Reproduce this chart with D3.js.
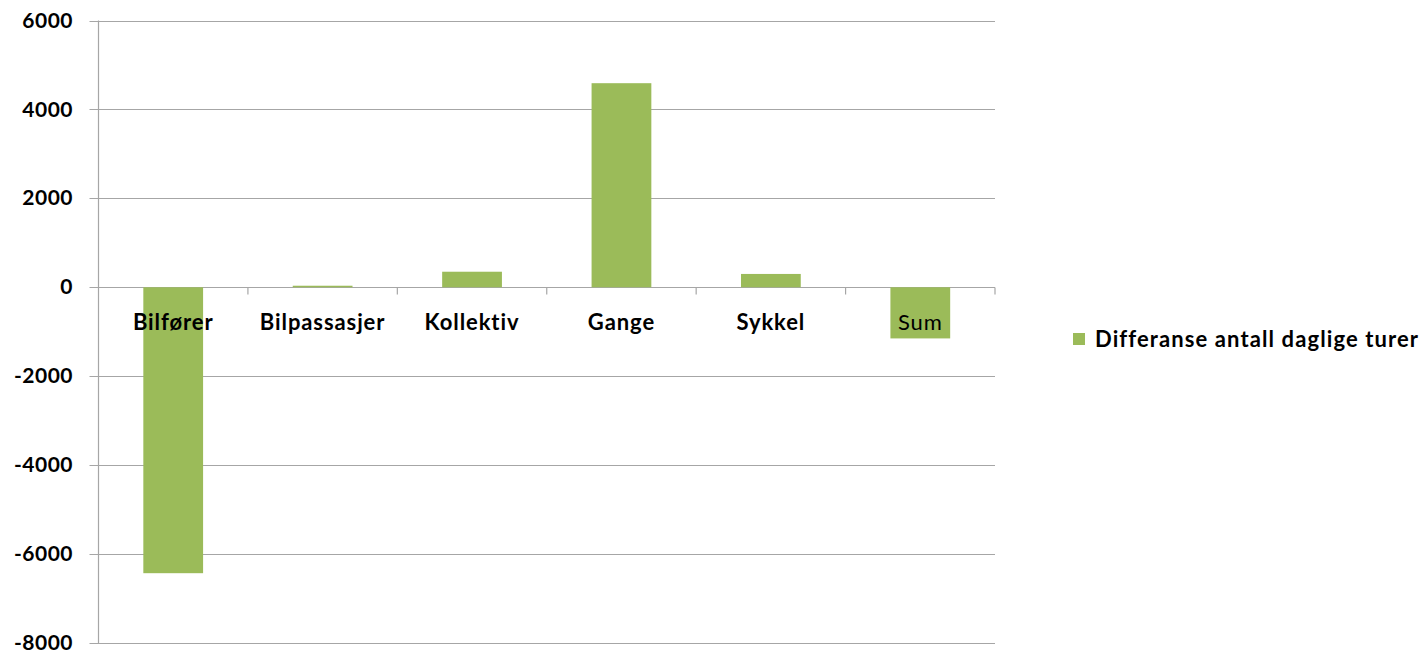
<!DOCTYPE html>
<html>
<head>
<meta charset="utf-8">
<script src="https://cdn.jsdelivr.net/npm/d3@7"></script>
<style>
  html, body { margin: 0; padding: 0; background: #fff; }
  svg { display: block; }
  text { font-family: "Lato", "Open Sans", sans-serif; }
</style>
</head>
<body>
<svg id="chart" width="1421" height="654"></svg>
<script>
const categories = ["Bilfører", "Bilpassasjer", "Kollektiv", "Gange", "Sykkel", "Sum"];
const values = [-6430, 35, 350, 4590, 300, -1150];
const yTicks = [6000, 4000, 2000, 0, -2000, -4000, -6000, -8000];
const seriesName = "Differanse antall daglige turer";

(function () {
const svg = d3.select("#chart");
const plotLeft = 98.5, plotRight = 995, plotTop = 20.5, plotBottom = 643;
const barColor = "#9BBB59";
const gridColor = "#a6a6a6";

const y = d3.scaleLinear().domain([-8000, 6000]).range([plotBottom, plotTop]);
const xBand = d3.scaleBand().domain(categories).range([plotLeft, plotRight]).paddingInner(0.6).paddingOuter(0.3);
const xStep = d3.scaleBand().domain(categories).range([plotLeft, plotRight]).padding(0);

// gridlines
svg.append("g").selectAll("line").data(yTicks).join("line")
  .attr("x1", plotLeft - 9).attr("x2", plotRight)
  .attr("y1", d => Math.round(y(d)) + 0.5).attr("y2", d => Math.round(y(d)) + 0.5)
  .attr("stroke", gridColor).attr("stroke-width", 1.2);

// vertical axis
svg.append("line").attr("x1", plotLeft).attr("x2", plotLeft).attr("y1", plotTop).attr("y2", plotBottom)
  .attr("stroke", gridColor).attr("stroke-width", 1.2);

// y tick labels
svg.append("g").selectAll("text").data(yTicks).join("text")
  .attr("x", 73).attr("y", d => y(d)).attr("dy", "0.34em")
  .attr("text-anchor", "end").attr("font-size", 21).attr("font-weight", "bold")
  .attr("letter-spacing", 0.5)
  .attr("fill", "#000").text(d => d);

// bars
svg.append("g").selectAll("rect").data(categories).join("rect")
  .attr("x", d => xBand(d)).attr("width", xBand.bandwidth())
  .attr("y", (d, i) => y(Math.max(0, values[i])))
  .attr("height", (d, i) => Math.abs(y(values[i]) - y(0)))
  .attr("fill", barColor);

// zero axis tick marks at category boundaries
const y0 = Math.round(y(0)) + 0.5;
const boundaries = categories.map(c => xStep(c)).concat([plotRight]).slice(1);
svg.append("g").selectAll("line").data(boundaries).join("line")
  .attr("x1", d => d).attr("x2", d => d).attr("y1", y0).attr("y2", y0 + 7)
  .attr("stroke", gridColor).attr("stroke-width", 1.2);

// category labels
svg.append("g").selectAll("text").data(categories).join("text")
  .attr("x", d => xStep(d) + xStep.bandwidth() / 2).attr("y", 322).attr("dy", "0.36em")
  .attr("text-anchor", "middle").attr("font-size", 22)
  .attr("letter-spacing", 0.9)
  .attr("font-weight", d => d === "Sum" ? "normal" : "bold")
  .attr("fill", "#000").text(d => d);

// legend
const lg = svg.append("g").attr("transform", "translate(1073,333)");
lg.append("rect").attr("width", 12).attr("height", 12).attr("fill", barColor);
lg.append("text").attr("x", 22).attr("y", 6).attr("dy", "0.36em")
  .attr("font-size", 22).attr("font-weight", "bold").attr("letter-spacing", 1.1)
  .attr("fill", "#000").text(seriesName);
})();
</script>
</body>
</html>
